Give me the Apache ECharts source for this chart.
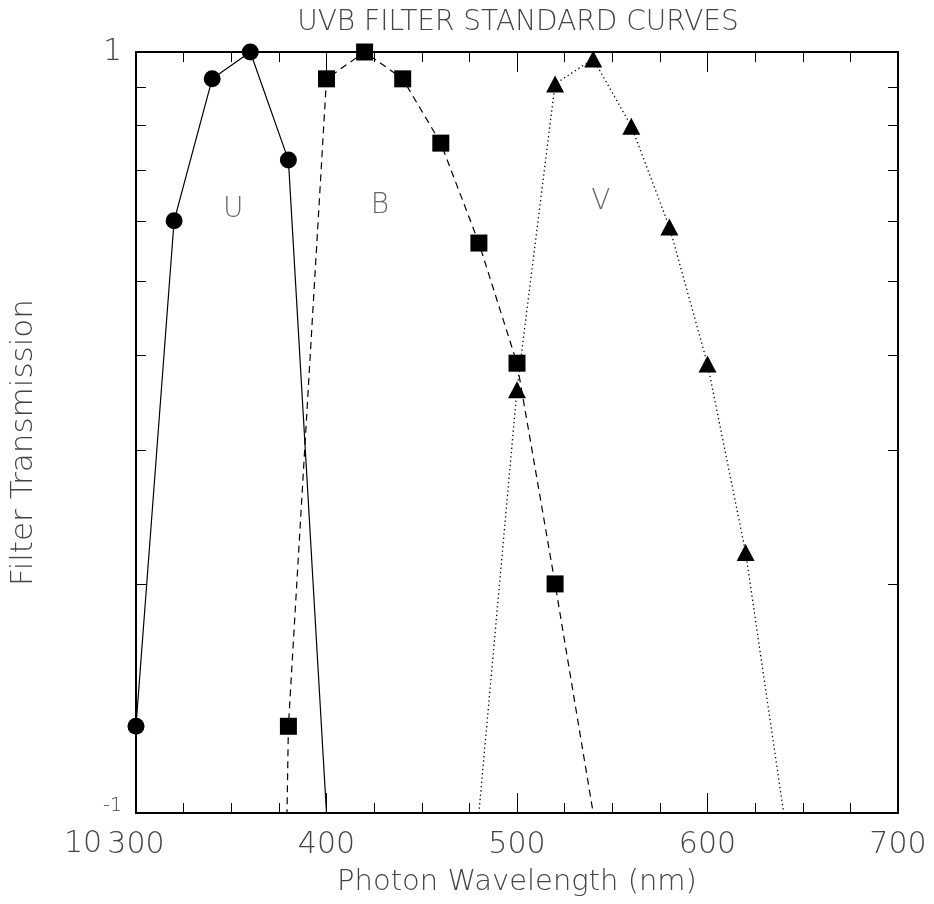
<!DOCTYPE html>
<html>
<head>
<meta charset="utf-8">
<script src="https://cdn.jsdelivr.net/npm/echarts@6/dist/echarts.min.js"></script>
<style>html,body{margin:0;padding:0;background:#fff}#c{width:934px;height:904px}</style>
</head>
<body>
<div id="c"></div>
<script>
// ---- data ----
const uWave = [300, 320, 340, 360, 380, 400];
const uTrans = [0.130, 0.600, 0.922, 1.000, 0.721, 0.100];
const bWave = [360, 380, 400, 420, 440, 460, 480, 500, 520, 540];
const bTrans = [0.0001, 0.130, 0.922, 1.000, 0.922, 0.759, 0.561, 0.390, 0.200, 0.100];
const vWave = [480, 500, 520, 540, 560, 580, 600, 620, 640];
const vTrans = [0.100, 0.360, 0.908, 0.979, 0.799, 0.589, 0.389, 0.220, 0.100];
const curveNames = ['U', 'B', 'V'];
const nameWave = [351, 428, 544];
const nameTrans = [0.620, 0.628, 0.635];
const xTicks = [300, 400, 500, 600, 700];
const yMajor = [0.1, 1];
const yMinor = [0.2, 0.3, 0.4, 0.5, 0.6, 0.7, 0.8, 0.9];

const FONT = 'DejaVu Sans';
const TXT = '#444';

function pts(w, t) {
  return w.map((x, i) => t[i] > 0.1 ? [x, t[i]] : { value: [x, t[i]], symbol: 'none' });
}

const axisLine = { show: true, lineStyle: { color: '#000', width: 2 } };

function xAx(pos, labels) {
  return {
    type: 'value', position: pos, min: xTicks[0], max: xTicks[xTicks.length - 1], interval: 100,
    axisLine: axisLine,
    axisTick: { show: true, inside: true, length: 20, lineStyle: { color: '#000', width: 1 } },
    minorTick: { show: true, splitNumber: 4, length: 10, lineStyle: { color: '#000', width: 1 } },
    splitLine: { show: false },
    axisLabel: { show: labels, margin: 17, fontFamily: FONT, fontWeight: 'lighter', fontSize: 30, color: TXT },
    name: labels ? 'Photon Wavelength (nm)' : '',
    nameLocation: 'middle', nameGap: 55,
    nameTextStyle: { fontFamily: FONT, fontWeight: 'lighter', fontSize: 29, color: TXT }
  };
}

function yAx(pos, major, labels) {
  const o = {
    type: 'log', logBase: 10, position: pos, min: 0.1, max: 1,
    axisLine: major ? axisLine : { show: false },
    axisTick: { show: true, inside: true, length: major ? 20 : 10,
      customValues: major ? yMajor : yMinor, lineStyle: { color: '#000', width: 1 } },
    splitLine: { show: false },
    minorTick: { show: false },
    axisLabel: { show: labels }
  };
  if (labels) {
    o.axisLabel = {
      show: true, margin: 14, customValues: yMajor,
      formatter: v => (Math.abs(v - 1) < 1e-9 ? '{a|1}' : '{b|10}{s|-1}'),
      rich: {
        a: { fontFamily: FONT, fontWeight: 'lighter', fontSize: 30, color: TXT },
        b: { fontFamily: FONT, fontWeight: 'lighter', fontSize: 30, color: TXT, padding: [62, 0, 0, 0] },
        s: { fontFamily: FONT, fontWeight: 'lighter', fontSize: 19, color: TXT, padding: [0, 0, 14, 1] }
      }
    };
    o.name = 'Filter Transmission';
    o.nameLocation = 'middle';
    o.nameGap = 97;
    o.nameTextStyle = { fontFamily: FONT, fontWeight: 'lighter', fontSize: 31, color: TXT, padding: [0, 20, 0, 0] };
  }
  return o;
}

const chart = echarts.init(document.getElementById('c'), null, { renderer: 'canvas' });
chart.setOption({
  animation: false,
  backgroundColor: '#fff',
  graphic: [{
    type: 'text', x: 518, y: 9,
    style: { text: 'UVB FILTER STANDARD CURVES', align: 'center', verticalAlign: 'top',
      fontFamily: FONT, fontWeight: 'lighter', fontSize: 28, fill: TXT }
  }],
  grid: { left: 136, right: 36, top: 52, bottom: 91, containLabel: false },
  xAxis: [xAx('bottom', true), xAx('top', false)],
  yAxis: [yAx('left', true, true), yAx('left', false, false), yAx('right', true, false), yAx('right', false, false)],
  series: [
    { type: 'line', name: 'U', data: pts(uWave, uTrans), clip: true,
      symbol: 'circle', symbolSize: 17, itemStyle: { color: '#000' },
      lineStyle: { color: '#000', width: 1.2, type: 'solid' } },
    { type: 'line', name: 'B', data: pts(bWave, bTrans), clip: true,
      symbol: 'rect', symbolSize: 17, itemStyle: { color: '#000' },
      lineStyle: { color: '#000', width: 1.2, type: [7, 5] } },
    { type: 'line', name: 'V', data: pts(vWave, vTrans), clip: true,
      symbol: 'triangle', symbolSize: [18, 17], itemStyle: { color: '#000' },
      lineStyle: { color: '#000', width: 1.3, type: [1.3, 3] } },
    { type: 'scatter', name: 'labels', symbolSize: 1, itemStyle: { color: 'rgba(0,0,0,0)' },
      data: curveNames.map((n, i) => ({ name: n, value: [nameWave[i], nameTrans[i]] })),
      label: { show: true, position: 'inside', formatter: '{b}', fontFamily: FONT, fontWeight: 'lighter',
        fontSize: 28, color: TXT } }
  ]
});
</script>
</body>
</html>
